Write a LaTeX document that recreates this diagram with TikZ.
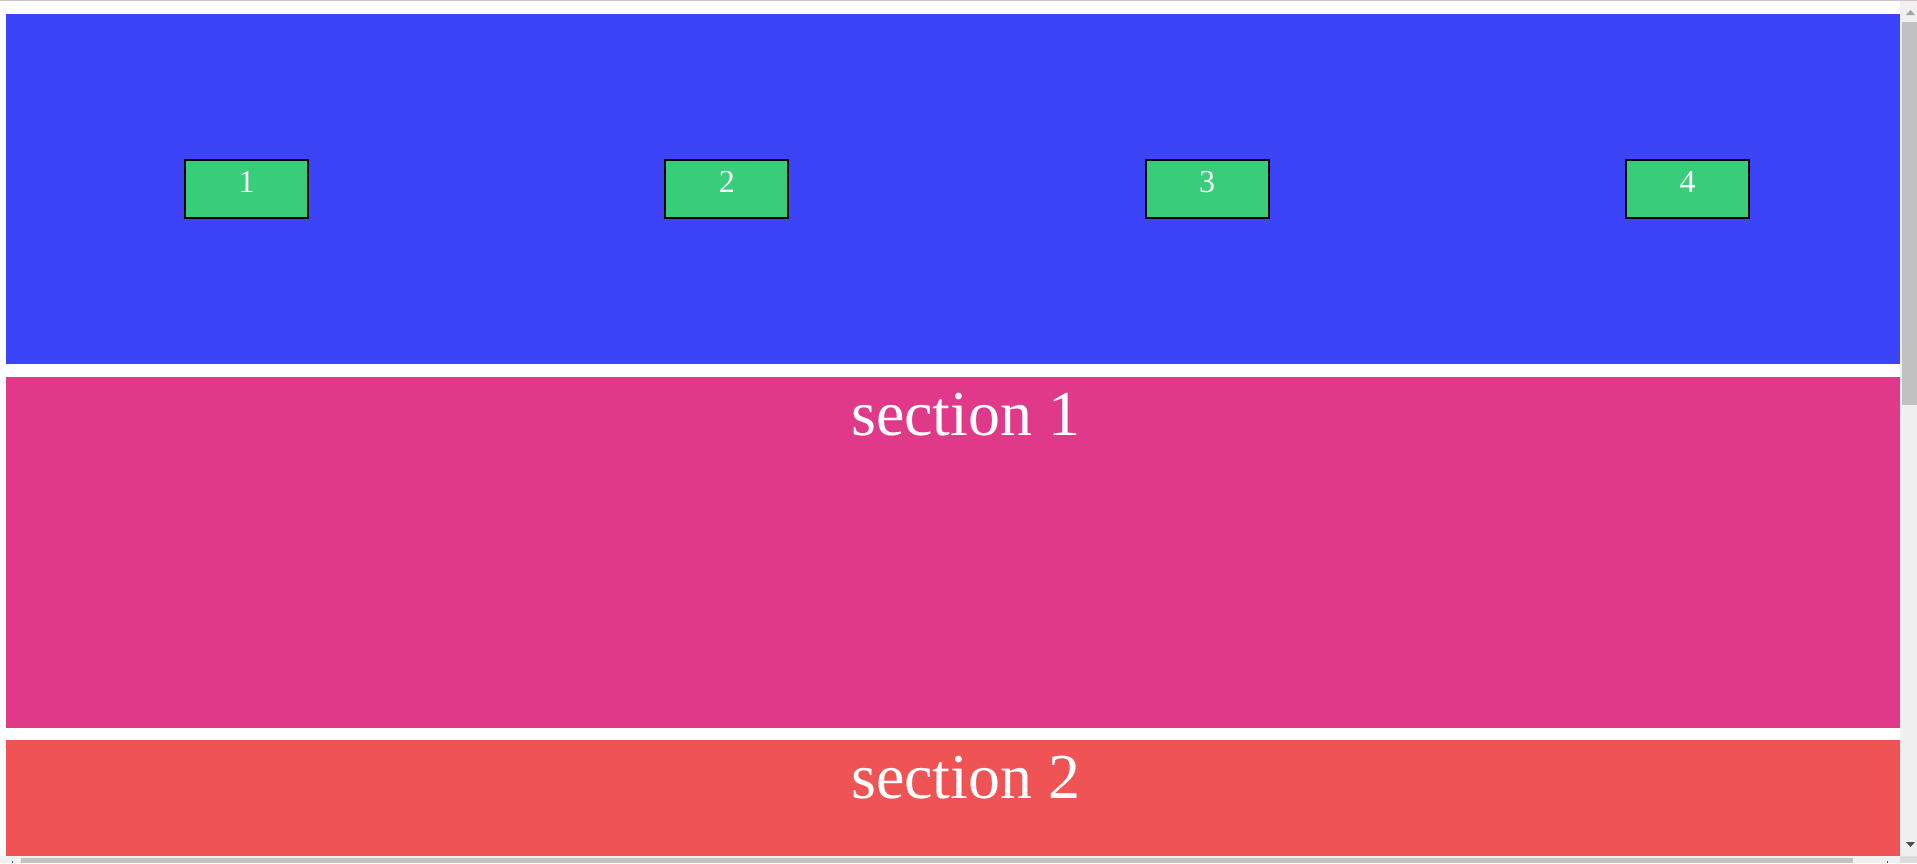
\documentclass[tikz,border=0pt]{standalone}
\usepackage{fontspec}
\setmainfont{Liberation Serif}
\usepackage{tikz}
\usetikzlibrary{calc, positioning}

\definecolor{hdblue}{RGB}{59,69,247}
\definecolor{secpink}{RGB}{224,57,137}
\definecolor{secred}{RGB}{239,83,83}
\definecolor{boxgreen}{RGB}{56,205,120}
\definecolor{track}{RGB}{240,240,240}
\definecolor{thumb}{RGB}{193,193,193}
\definecolor{corner}{RGB}{220,220,220}
\definecolor{topline}{RGB}{205,195,195}

\begin{document}
\begin{tikzpicture}[x=1pt, y=-1pt,
		band/.style={anchor=north west, inner sep=0pt, minimum width=1894pt},
		cell/.style={draw, line width=2pt, fill=boxgreen, text=white, inner sep=0pt,
			minimum width=123pt, minimum height=58pt, text height=22pt, text depth=16pt,
			font=\fontsize{32}{36}\selectfont},
		title/.style={anchor=base west, inner sep=0pt, text=white, font=\fontsize{64}{70}\selectfont}]
		\useasboundingbox (0,0) rectangle (1917,863);
		\fill[white] (0,0) rectangle (1917,863);
		\draw[topline, line width=1pt] (0,0.5) -- (1917,0.5);

		\node[band, fill=hdblue, minimum height=350pt] (Hd) at (6,14) {};
		\node[band, fill=secpink, minimum height=351pt] (S1) at (6,377) {};
		\node[band, fill=secred, minimum height=116pt] (S2) at (6,740) {};

		\node[title] (T1) at (851,435) {section 1};
		\node[title] (T2) at (851,798) {section 2};

		\node[cell] (B1) at (246.5,189) {1};
		\node[cell] (B2) at (726.8,189) {2};
		\node[cell] (B3) at (1207.2,189) {3};
		\node[cell] (B4) at (1687.5,189) {4};

		% scrollbars
		\fill[track] (1900,1) rectangle (1917,856);
		\fill[thumb] (1902,22) rectangle (1917,405);
		\fill[track] (0,856) rectangle (1900,863);
		\fill[thumb] (21,858) rectangle (1853,863);
		\fill[corner] (1900,856) rectangle (1917,863);
		\fill[black!36] (1906,15) -- (1915,15) -- (1910.5,10) -- cycle;
		\fill[black!69] (1906,842) -- (1915,842) -- (1910.5,847) -- cycle;
		\fill[black!69] (12,861) rectangle (13,863);
		\fill[black!69] (1887,861) rectangle (1888,863);
	\end{tikzpicture}
\end{document}
